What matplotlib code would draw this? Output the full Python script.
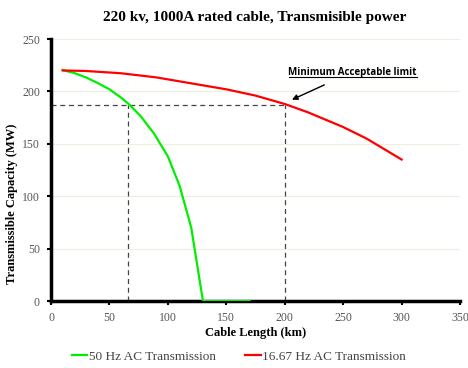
import matplotlib
matplotlib.use("Agg")
import matplotlib.pyplot as plt

# Data
x_50 = [10, 20, 30, 40, 50, 60, 67, 77, 88, 100, 110, 115, 120, 130, 170]
y_50 = [220.4, 217.5, 213.3, 208, 202, 194, 187.5, 176, 160, 138, 110, 90, 70, 0, 0]
x_16 = [10, 30, 60, 90, 120, 150, 175, 200, 220, 250, 270, 300]
y_16 = [220, 219.5, 217.3, 213.4, 207.7, 202, 196, 188, 180, 166, 155, 135]
limit_y = 187
limit_x = [66, 200]
xticks = [0, 50, 100, 150, 200, 250, 300, 350]
yticks = [0, 50, 100, 150, 200, 250]

serif = ["Liberation Serif", "DejaVu Serif"]

fig = plt.figure(figsize=(4.68, 3.68), dpi=100)
ax = fig.add_axes([0.109, 0.182, 0.874, 0.712])

for yt in yticks[1:]:
    ax.axhline(yt, color="#f0ede0", lw=0.8, zorder=0)

ax.plot(x_50, y_50, color="#00ee00", lw=1.6, label="50 Hz AC Transmission", zorder=3)
ax.plot(x_16, y_16, color="#ff0000", lw=1.6, label="16.67 Hz AC Transmission", zorder=3)

ax.plot([0, limit_x[1]], [limit_y, limit_y], color="#444444", lw=0.9, ls=(0, (4, 3)), zorder=2)
for lx in limit_x:
    ax.plot([lx, lx], [0, limit_y], color="#444444", lw=0.9, ls=(0, (4, 3)), zorder=2)

ax.annotate("Minimum Acceptable limit", xy=(204, 191), xytext=(258, 218.5),
            ha="center", va="center", fontsize=7, fontweight="bold",
            family=["Open Sans", "DejaVu Sans"],
            arrowprops=dict(arrowstyle="-|>", color="black", lw=1.0, shrinkA=8, mutation_scale=8))
# underline
ax.plot([203.5, 313], [213.5, 213.5], color="black", lw=0.8, clip_on=False)

ax.set_xlim(0, 350)
ax.set_ylim(0, 250)
ax.set_xticks(xticks)
ax.set_yticks(yticks)
for s in ["top", "right"]:
    ax.spines[s].set_visible(False)
for s in ["left", "bottom"]:
    ax.spines[s].set_linewidth(2.5)
ax.tick_params(axis="both", length=3, width=1.5, color="black", labelsize=8.5,
               labelcolor="#555555", pad=5)
for lab in ax.get_xticklabels() + ax.get_yticklabels():
    lab.set_family(serif)

ax.set_xlabel("Cable Length (km)", fontsize=9, fontweight="bold", family=serif, labelpad=2)
ax.set_ylabel("Transmissible Capacity (MW)", fontsize=9, fontweight="bold", family=serif)
ax.yaxis.set_label_coords(-0.08, 0.37)
fig.text(0.545, 0.952, "220 kv, 1000A rated cable, Transmisible power", ha="center", va="center",
         fontsize=11, fontweight="bold", family=serif)

leg = fig.legend(loc="center", bbox_to_anchor=(0.51, 0.03), ncol=2, frameon=False,
                 prop={"family": serif, "size": 9.5}, handlelength=1.2, handletextpad=0.1,
                 columnspacing=2.2)
for t in leg.get_texts():
    t.set_color("#444444")

fig.savefig("out.png", dpi=100)
